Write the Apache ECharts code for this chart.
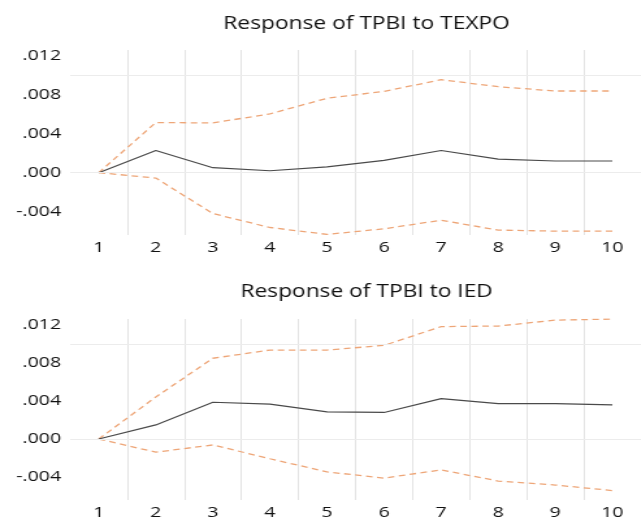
<!DOCTYPE html>
<html>
<head>
<meta charset="utf-8">
<script src="https://cdn.jsdelivr.net/npm/echarts@6/dist/echarts.min.js"></script>
<style>
  html, body { margin: 0; padding: 0; background: #ffffff; overflow: hidden; width: 641px; height: 520px; }
  #chart { width: 493px; height: 520px; transform: scaleX(1.3); transform-origin: 0 0; }
</style>
</head>
<body>
<div id="chart"></div>
<script>
// Periods
const periods = ['1', '2', '3', '4', '5', '6', '7', '8', '9', '10'];

// Y tick values (labels .012 ... -.004)
const yTicks = [-0.004, 0, 0.004, 0.008, 0.012];

// Response of TPBI to TEXPO
const texpoResponse = [0.0000, 0.00228, 0.00051, 0.00020, 0.00060, 0.00126, 0.00228, 0.00140, 0.00120, 0.00120];
const texpoUpper    = [0.0000, 0.00515, 0.00511, 0.00604, 0.00764, 0.00835, 0.00955, 0.00883, 0.00839, 0.00839];
const texpoLower    = [0.0000, -0.00055, -0.00420, -0.00563, -0.00634, -0.00576, -0.00488, -0.00590, -0.00600, -0.00600];

// Response of TPBI to IED
const iedResponse = [0.0000, 0.00148, 0.00386, 0.00366, 0.00286, 0.00279, 0.00424, 0.00372, 0.00372, 0.00359];
const iedUpper    = [0.0000, 0.00441, 0.00848, 0.00934, 0.00934, 0.00983, 0.01180, 0.01186, 0.01248, 0.01259];
const iedLower    = [0.0000, -0.00138, -0.00062, -0.00207, -0.00345, -0.00410, -0.00324, -0.00441, -0.00483, -0.00541];

const titles = ['Response of TPBI to TEXPO', 'Response of TPBI to IED'];
const yMin = -0.0064, yMax = 0.0126;

const FONT = 'Open Sans';
const fmt = v => {
  if (Math.abs(v) < 1e-12) return '.000';
  return v.toFixed(3).replace('0.', '.');
};

const grids = [
  { left: 54, right: -8, top: 50, height: 185 },
  { left: 54, right: -8, top: 319, height: 185 }
];

function xAxisFor(i) {
  return {
    type: 'category', gridIndex: i, data: periods, boundaryGap: true,
    axisLine: { show: false }, axisTick: { show: false },
    axisLabel: { color: '#111111', fontFamily: FONT, fontSize: 15, margin: 5 },
    splitLine: { show: true, showMinLine: false, showMaxLine: false, lineStyle: { color: '#e4e4e4', width: 1 } }
  };
}
function yAxisFor(i) {
  return {
    type: 'value', gridIndex: i, min: yMin, max: yMax,
    axisLine: { show: false },
    axisTick: { show: false, customValues: yTicks },
    axisLabel: { color: '#111111', fontFamily: FONT, fontSize: 15, margin: 7, formatter: fmt, customValues: yTicks },
    splitLine: { show: false }
  };
}
function gridLines() {
  return {
    silent: true, symbol: 'none', label: { show: false }, animation: false,
    data: yTicks.map(v => ({
      yAxis: v,
      lineStyle: v === 0
        ? { color: '#c6c6c6', type: 'solid', width: 1 }
        : { color: '#ececec', type: 'solid', width: 1 }
    }))
  };
}
function bandSeries(i, data) {
  return {
    type: 'line', xAxisIndex: i, yAxisIndex: i, data: data,
    symbol: 'none', silent: true, z: 3,
    lineStyle: { color: '#eea678', width: 1.3, type: [5, 3.5] }
  };
}
function respSeries(i, data) {
  return {
    type: 'line', xAxisIndex: i, yAxisIndex: i, data: data,
    symbol: 'none', silent: true, z: 4,
    lineStyle: { color: '#4a4a4a', width: 1.2 },
    markLine: gridLines()
  };
}

const chart = echarts.init(document.getElementById('chart'), null, { renderer: 'canvas' });
chart.setOption({
  animation: false,
  backgroundColor: '#ffffff',
  title: [
    { text: titles[0], left: 277, textAlign: 'center', top: 10,
      textStyle: { color: '#111111', fontFamily: FONT, fontSize: 17.5, fontWeight: 'normal' } },
    { text: titles[1], left: 277, textAlign: 'center', top: 278,
      textStyle: { color: '#111111', fontFamily: FONT, fontSize: 17.5, fontWeight: 'normal' } }
  ],
  grid: grids,
  xAxis: [xAxisFor(0), xAxisFor(1)],
  yAxis: [yAxisFor(0), yAxisFor(1)],
  series: [
    respSeries(0, texpoResponse), bandSeries(0, texpoUpper), bandSeries(0, texpoLower),
    respSeries(1, iedResponse), bandSeries(1, iedUpper), bandSeries(1, iedLower)
  ]
});
</script>
</body>
</html>
